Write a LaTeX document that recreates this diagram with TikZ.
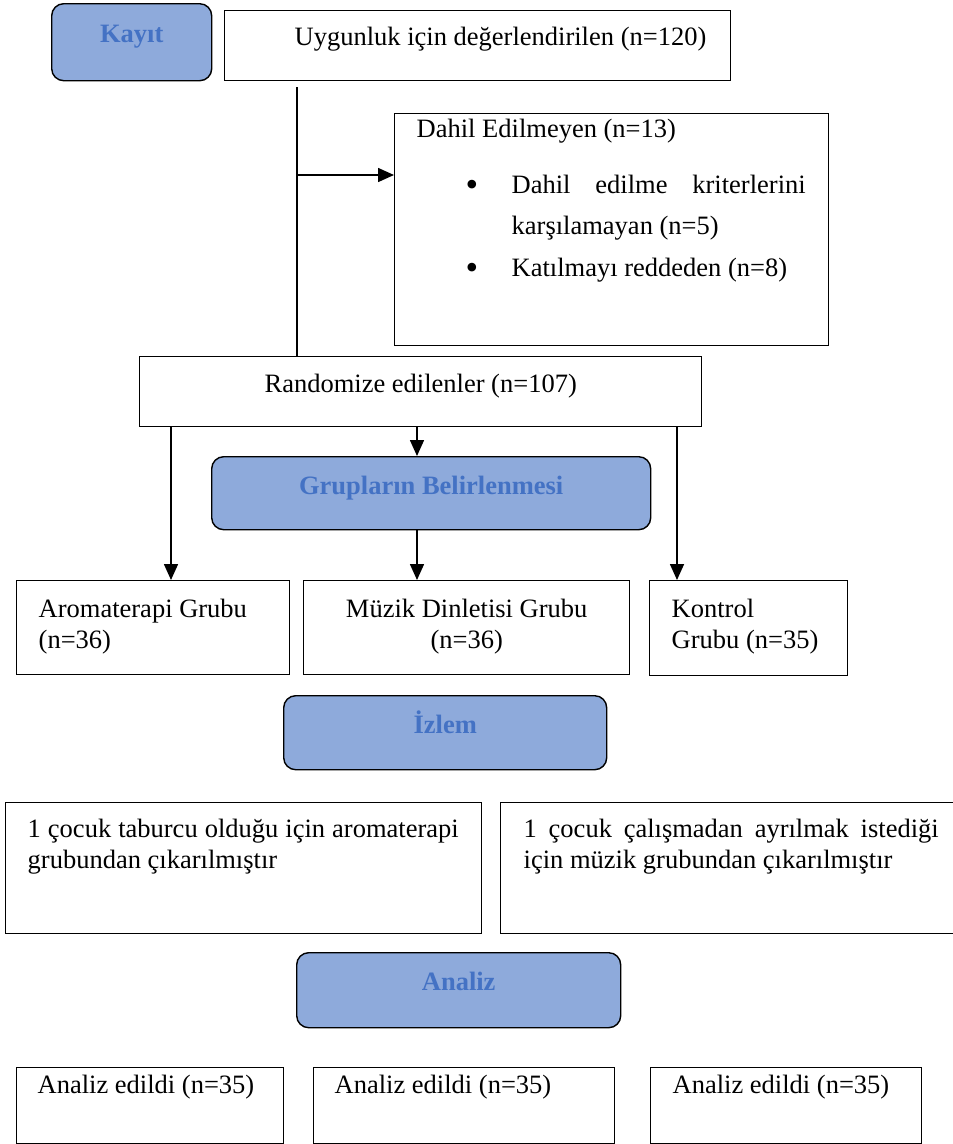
\documentclass[tikz,border=0pt]{standalone}
\usepackage{fontspec}
\setmainfont{Liberation Serif}
\usetikzlibrary{arrows.meta}
\definecolor{headfill}{HTML}{8EAADB}
\definecolor{headtext}{HTML}{4472C4}
\newcommand{\bigbullet}{\raisebox{-3pt}{\fontsize{36}{36}\selectfont\textbullet}}

\begin{document}
\begin{tikzpicture}[x=1pt,y=-1pt]
\tikzstyle{textbox}=[draw,line width=1.4pt,anchor=north west,inner sep=0pt,font=\fontsize{26.5}{30.5}\selectfont]
\tikzstyle{headbox}=[textbox,rounded corners=12pt,fill=headfill,text=headtext,font=\fontsize{26.5}{30.5}\selectfont\bfseries,align=flush center]
\tikzstyle{conn}=[line width=1.6pt]
\tikzstyle{arr}=[conn,-{Triangle[length=16pt,width=14pt]}]

\useasboundingbox (0,0) rectangle (953,1144);

%enrolment.
\node[headbox,text width=160pt,text height=39pt,text depth=38pt] (kayit) at (51,3) {Kayıt};
\node[textbox,align=flush left,text width=506pt,text height=35pt,text depth=35pt] (uygun) at (224,10) {\hspace*{70pt}Uygunluk için değerlendirilen (n=120)};

\node[textbox,align=flush left,inner xsep=22pt,text width=390pt,text height=24pt,text depth=208pt,
      font=\fontsize{26.5}{41}\selectfont] (dahil) at (394,113)
     {Dahil Edilmeyen (n=13)\\[15pt]
      \hspace*{49pt}\makebox[46pt][l]{\bigbullet}\makebox[294pt][s]{Dahil edilme kriterlerini}\\
      \hspace*{95pt}karşılamayan (n=5)\\[1pt]
      \hspace*{49pt}\makebox[46pt][l]{\bigbullet}Katılmayı reddeden (n=8)};

\coordinate (trunktop) at (297,87);
\coordinate (branch) at (297,175);

\node[textbox,align=flush center,text width=562pt,text height=36pt,text depth=34pt] (random) at (139,356) {Randomize edilenler (n=107)};
\draw[conn] (trunktop) -- (trunktop |- random.north);
\draw[arr] (branch) -- (branch -| dahil.west);

%allocation.
\node[headbox,text width=439pt,text height=38pt,text depth=35pt] (grup) at (211,456) {Grupların Belirlenmesi};

\node[textbox,align=flush left,inner xsep=22pt,text width=229pt,text height=37pt,text depth=57pt] (arom) at (16,580) {Aromaterapi Grubu\\(n=36)};
\node[textbox,align=flush center,text width=326pt,text height=37pt,text depth=57pt] (muzik) at (303,580) {Müzik Dinletisi Grubu\\(n=36)};
\node[textbox,align=flush left,inner xsep=22pt,text width=154pt,text height=37pt,text depth=58pt] (kontrol) at (649,580) {Kontrol\\Grubu (n=35)};

\coordinate (leftdrop) at (171,0);
\coordinate (middrop) at (417,0);
\coordinate (rightdrop) at (677,0);
\draw[arr] (leftdrop |- random.south) -- (leftdrop |- arom.north);
\draw[arr] (middrop |- random.south) -- (middrop |- grup.north);
\draw[arr] (middrop |- grup.south) -- (middrop |- muzik.north);
\draw[arr] (rightdrop |- random.south) -- (rightdrop |- kontrol.north);

%follow-up.
\node[headbox,text width=323pt,text height=38pt,text depth=36pt] (izlem) at (283,695) {İzlem};

\node[textbox,align=flush left,inner xsep=22pt,text width=432pt,text height=35pt,text depth=96pt] (cikar1) at (5,802)
     {\makebox[431pt][s]{1 çocuk taburcu olduğu için aromaterapi}\\grubundan çıkarılmıştır};
\node[textbox,align=flush left,inner xsep=23pt,text width=416pt,text height=35pt,text depth=96pt] (cikar2) at (500,802)
     {\makebox[415pt][s]{1 çocuk çalışmadan ayrılmak istediği}\\için müzik grubundan çıkarılmıştır};

%analysis.
\node[headbox,text width=324pt,text height=38pt,text depth=37pt] (analiz) at (296,952) {Analiz};

\node[textbox,align=flush left,inner xsep=21pt,text width=225pt,text height=26pt,text depth=50pt] (son1) at (16,1067) {\mbox{Analiz edildi (n=35)}};
\node[textbox,align=flush left,inner xsep=21pt,text width=259pt,text height=26pt,text depth=50pt] (son2) at (313,1067) {\mbox{Analiz edildi (n=35)}};
\node[textbox,align=flush left,inner xsep=22pt,text width=227pt,text height=26pt,text depth=50pt] (son3) at (650,1067) {\mbox{Analiz edildi (n=35)}};

\end{tikzpicture}
\end{document}
